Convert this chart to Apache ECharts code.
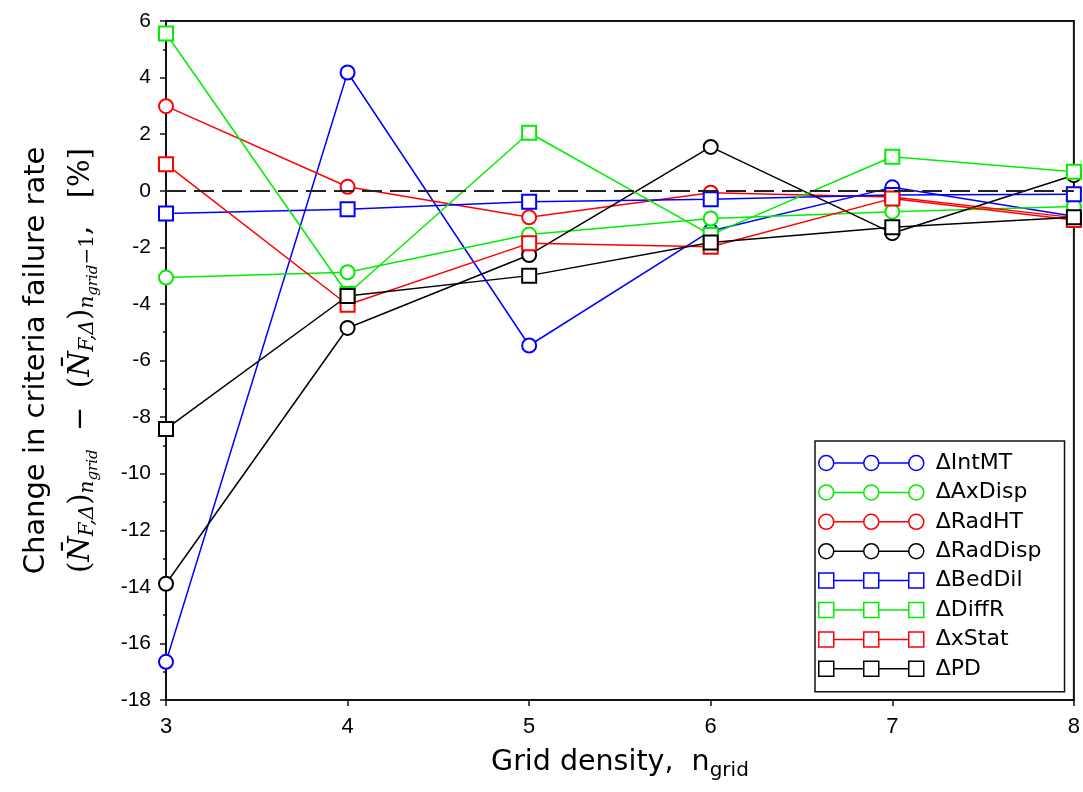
<!DOCTYPE html>
<html>
<head>
<meta charset="utf-8">
<script src="https://cdn.jsdelivr.net/npm/echarts@6/dist/echarts.min.js"></script>
<style>html,body{margin:0;padding:0;background:#fff}#c{width:1083px;height:792px}</style>
</head>
<body>
<div id="c"></div>
<script>
// ---- data ----
const gridDensity = [3, 4, 5, 6, 7, 8];
const seriesNames = ['ΔIntMT', 'ΔAxDisp', 'ΔRadHT', 'ΔRadDisp', 'ΔBedDil', 'ΔDiffR', 'ΔxStat', 'ΔPD'];
const intMT   = [-16.65, 4.18, -5.47, -1.42, 0.12, -0.90];
const axDisp  = [-3.07, -2.88, -1.55, -0.98, -0.74, -0.56];
const radHT   = [2.99, 0.14, -0.94, -0.07, -0.22, -0.95];
const radDisp = [-13.89, -4.85, -2.27, 1.55, -1.50, 0.55];
const bedDil  = [-0.80, -0.65, -0.39, -0.30, -0.15, -0.12];
const diffR   = [5.56, -3.65, 2.05, -1.56, 1.20, 0.67];
const xStat   = [0.94, -4.03, -1.86, -1.98, -0.27, -1.03];
const pd      = [-8.42, -3.72, -3.00, -1.83, -1.29, -0.94];
const yTicks = {min: -18, max: 6, step: 2};

// ---- styles ----
const values = [intMT, axDisp, radHT, radDisp, bedDil, diffR, xStat, pd];
const colors = ['#0000ff', '#00ee00', '#ff0000', '#000000', '#0000ff', '#00ee00', '#ff0000', '#000000'];
const shapes = ['emptyCircle', 'emptyCircle', 'emptyCircle', 'emptyCircle', 'emptyRect', 'emptyRect', 'emptyRect', 'emptyRect'];

const circIcon = 'path://M0,7.5 A7.5,7.5 0 1,1 15,7.5 A7.5,7.5 0 1,1 0,7.5 Z M15,7.5 L45,7.5 M45,7.5 A7.5,7.5 0 1,1 60,7.5 A7.5,7.5 0 1,1 45,7.5 Z M60,7.5 L90,7.5 M90,7.5 A7.5,7.5 0 1,1 105,7.5 A7.5,7.5 0 1,1 90,7.5 Z';
const rectIcon = 'path://M0,0 L15,0 L15,15 L0,15 Z M15,7.5 L45,7.5 M45,0 L60,0 L60,15 L45,15 Z M60,7.5 L90,7.5 M90,0 L105,0 L105,15 L90,15 Z';

const series = seriesNames.map((name, i) => ({
  name: name,
  type: 'line',
  data: gridDensity.map((x, j) => [x, values[i][j]]),
  symbol: shapes[i],
  symbolSize: 14,
  showAllSymbol: true,
  color: colors[i],
  lineStyle: {color: colors[i], width: 1.5},
  itemStyle: {color: colors[i], borderColor: colors[i], borderWidth: 1.5},
  emphasis: {disabled: true},
  animation: false,
  z: 3
}));
series.push({
  name: 'zero',
  type: 'line',
  data: [],
  silent: true,
  animation: false,
  markLine: {
    silent: true,
    symbol: 'none',
    label: {show: false},
    lineStyle: {color: '#222', width: 2, type: [20, 8]},
    data: [{yAxis: 0}]
  },
  z: 2
});

const yName = '{t|Change in criteria failure rate}\n' +
  '{r|(}{m|N̄}{s|F,Δ}{r|)}{s|n}{ss|grid}{r|  −  (}{m|N̄}{s|F,Δ}{r|)}{s|n}{ss|grid}{sr|−1}{r|,   [%]}';

const option = {
  backgroundColor: '#fff',
  animation: false,
  grid: {left: 166, right: 7, top: 21, bottom: 92, show: true, borderColor: '#111', borderWidth: 2, backgroundColor: 'transparent'},
  xAxis: {
    type: 'value', min: 3, max: 8, interval: 1,
    axisLine: {onZero: false, lineStyle: {color: '#111', width: 2}},
    axisTick: {show: true, length: 6, lineStyle: {color: '#111', width: 1.5}},
    splitLine: {show: false},
    axisLabel: {color: '#000', fontFamily: 'Liberation Sans', fontSize: 22, margin: 16},
    name: '{n|Grid density,  n}{ns|grid}',
    nameLocation: 'middle',
    nameGap: 46,
    nameTextStyle: {
      rich: {
        n: {fontFamily: 'DejaVu Sans', fontSize: 28.5, color: '#000', lineHeight: 34},
        ns: {fontFamily: 'DejaVu Sans', fontSize: 20, color: '#000', lineHeight: 20, padding: [16, 0, 0, 0]}
      }
    }
  },
  yAxis: {
    type: 'value', min: yTicks.min, max: yTicks.max, interval: yTicks.step,
    axisLine: {show: true, onZero: false, lineStyle: {color: '#111', width: 2}},
    axisTick: {show: true, length: 6, lineStyle: {color: '#111', width: 1.5}},
    minorTick: {show: true, splitNumber: 2, length: 3, lineStyle: {color: '#111', width: 1.5}},
    splitLine: {show: false},
    axisLabel: {color: '#000', fontFamily: 'Liberation Sans', fontSize: 21, margin: 15},
    name: yName,
    nameLocation: 'middle',
    nameRotate: 90,
    nameGap: 62,
    nameTextStyle: {
      align: 'center',
      rich: {
        t: {fontFamily: 'DejaVu Sans', fontSize: 29, color: '#000', lineHeight: 44},
        r: {fontFamily: 'DejaVu Serif', fontSize: 29, color: '#000', lineHeight: 46},
        m: {fontFamily: 'DejaVu Serif', fontStyle: 'italic', fontSize: 29, color: '#000', lineHeight: 46},
        s: {fontFamily: 'DejaVu Serif', fontStyle: 'italic', fontSize: 20, color: '#000', lineHeight: 20, padding: [14, 0, 0, 0]},
        sr: {fontFamily: 'DejaVu Serif', fontSize: 20, color: '#000', lineHeight: 20, padding: [14, 0, 0, 0]},
        ss: {fontFamily: 'DejaVu Serif', fontStyle: 'italic', fontSize: 15, color: '#000', lineHeight: 15, padding: [24, 0, 0, 0]}
      }
    }
  },
  legend: {
    orient: 'vertical',
    left: 815, top: 441,
    backgroundColor: '#fff',
    borderColor: '#111', borderWidth: 1.5,
    padding: [11, 23, 12, 3],
    itemWidth: 105, itemHeight: 15,
    itemGap: 7.4,
    selectedMode: false,
    textStyle: {fontFamily: 'DejaVu Sans', fontSize: 22, color: '#000', lineHeight: 22, padding: [0, 0, 0, 7]},
    data: seriesNames.map((n, i) => ({
      name: n,
      icon: i < 4 ? circIcon : rectIcon,
      itemStyle: {color: '#fff', borderColor: colors[i], borderWidth: 1.5}
    }))
  },
  series: series
};

const chart = echarts.init(document.getElementById('c'), null, {renderer: 'canvas'});
chart.setOption(option);
</script>
</body>
</html>
